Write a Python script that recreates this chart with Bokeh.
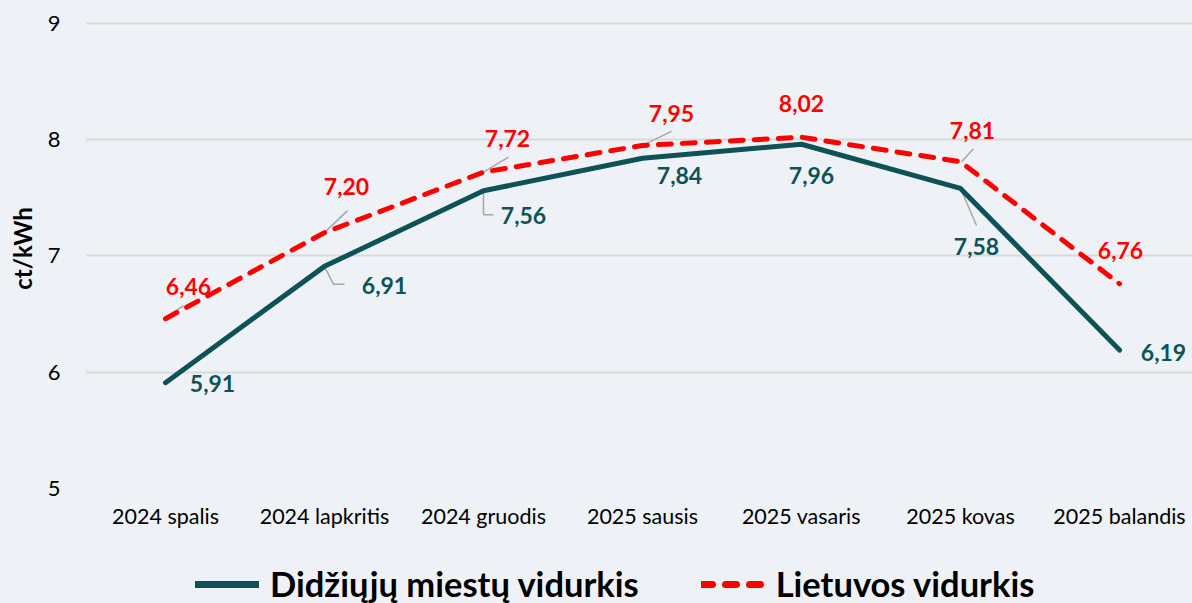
from bokeh.plotting import figure
from bokeh.layouts import column
from bokeh.models import ColumnDataSource, Range1d, FixedTicker, Legend, LegendItem
from bokeh.core.properties import value
from bokeh.embed import file_html
from bokeh.resources import INLINE

# ---- data ----
months = ["2024 spalis", "2024 lapkritis", "2024 gruodis", "2025 sausis",
          "2025 vasaris", "2025 kovas", "2025 balandis"]
cities = [5.91, 6.91, 7.56, 7.84, 7.96, 7.58, 6.19]
lithuania = [6.46, 7.20, 7.72, 7.95, 8.02, 7.81, 6.76]
y_ticks = [5, 6, 7, 8, 9]
series_names = ["Didžiųjų miestų vidurkis", "Lietuvos vidurkis"]

# ---- styles / label placement (screen px, +y = down) ----
TEAL = "#0C5257"
RED = "#FF0000"
BG = "#EEF2F6"
FONT = "Lato"
cities_off = [(47, 1), (60, 19), (40, 25), (37, 17), (10, 31), (16, 58), (44, 2)]
lith_off = [(23, -32), (22, -46), (24, -34), (29, -32), (0, -34), (12, -31), (1, -33)]
# leader lines (screen px, relative to point), keyed by index
cities_lead = {1: [(0, 0), (9, 18), (20, 18)], 2: [(0, 2), (0, 24), (10, 24)], 5: [(1, 2), (16, 37)]}
lith_lead = {0: [(3, -3), (18, -13)], 1: [(1, -1), (23, -22)], 2: [(0, 0), (25, -15)],
             3: [(0, 0), (29, -14)], 5: [(1, 0), (13, -13)]}

W, H_MAIN, H_LEG = 1192, 538, 65
BL, BT, BB, BR = 85, 8, 50, 0
PXX = 159.0
PXY = 116.3
X0 = -80 / PXX
X1 = X0 + (W - BL - BR) / PXX
Y0 = 5
Y1 = Y0 + (H_MAIN - BT - BB) / PXY

xs = list(range(len(months)))

p = figure(width=W, height=H_MAIN, output_backend="svg", toolbar_location=None,
           x_range=Range1d(X0, X1), y_range=Range1d(Y0, Y1),
           min_border_left=BL, min_border_top=BT, min_border_bottom=BB, min_border_right=BR)
p.background_fill_color = BG
p.border_fill_color = BG
p.outline_line_color = None

p.xgrid.grid_line_color = None
p.ygrid.grid_line_color = "#D9D9D9"
p.ygrid.grid_line_width = 2
p.ygrid.ticker = FixedTicker(ticks=y_ticks)

p.yaxis.ticker = FixedTicker(ticks=y_ticks)
p.yaxis.axis_line_color = None
p.yaxis.major_tick_line_color = None
p.yaxis.minor_tick_line_color = None
p.yaxis.major_label_text_font = FONT
p.yaxis.major_label_text_font_size = "22px"
p.yaxis.major_label_text_color = "#000000"
p.yaxis.major_label_standoff = 19
p.yaxis.axis_label = "ct/kWh"
p.yaxis.axis_label_text_font = FONT
p.yaxis.axis_label_text_font_style = "bold"
p.yaxis.axis_label_text_font_size = "24px"
p.yaxis.axis_label_text_color = "#000000"
p.yaxis.axis_label_standoff = 8

p.xaxis.ticker = FixedTicker(ticks=xs)
p.xaxis.major_label_overrides = {i: m for i, m in enumerate(months)}
p.xaxis.axis_line_color = None
p.xaxis.major_tick_line_color = None
p.xaxis.minor_tick_line_color = None
p.xaxis.major_label_text_font = FONT
p.xaxis.major_label_text_font_size = "21.5px"
p.xaxis.major_label_text_color = "#000000"
p.xaxis.major_label_standoff = 8


def leaders(vals, lead):
    lx, ly = [], []
    for i, pts in lead.items():
        lx.append([xs[i] + dx / PXX for dx, dy in pts])
        ly.append([vals[i] - dy / PXY for dx, dy in pts])
    return lx, ly


for vals, lead in ((cities, cities_lead), (lithuania, lith_lead)):
    lx, ly = leaders(vals, lead)
    p.multi_line(lx, ly, line_color="#A6A6A6", line_width=1.5)

src_c = ColumnDataSource(dict(x=xs, y=cities, lab=[f"{v:.2f}".replace(".", ",") for v in cities],
                              dx=[o[0] for o in cities_off], dy=[o[1] for o in cities_off]))
src_l = ColumnDataSource(dict(x=xs, y=lithuania, lab=[f"{v:.2f}".replace(".", ",") for v in lithuania],
                              dx=[o[0] for o in lith_off], dy=[o[1] for o in lith_off]))

p.line("x", "y", source=src_c, line_color=TEAL, line_width=5, line_cap="round", line_join="round")
p.line("x", "y", source=src_l, line_color=RED, line_width=5, line_dash="13 11",
       line_cap="round", line_join="round")

for src, col in ((src_c, TEAL), (src_l, RED)):
    p.text(x="x", y="y", text="lab", x_offset="dx", y_offset="dy", source=src,
           text_align="center", text_baseline="middle", text_font=value(FONT),
           text_font_style="bold", text_font_size="23px", text_color=col)

# ---- legend strip below the chart (series drawn out of view, only legend swatches show) ----
lf = figure(width=W, height=H_LEG, output_backend="svg", toolbar_location=None,
            x_range=Range1d(0, 1), y_range=Range1d(0, 1),
            x_axis_type=None, y_axis_type=None,
            min_border_left=0, min_border_right=0, min_border_top=0, min_border_bottom=0)
lf.background_fill_color = BG
lf.border_fill_color = BG
lf.outline_line_color = None
lf.grid.visible = False
g1 = lf.line("x", "y", source=src_c, line_color=TEAL, line_width=7, line_cap="round")
g2 = lf.line("x", "y", source=src_l, line_color=RED, line_width=7, line_dash="11 13", line_cap="round")

legend = Legend(items=[LegendItem(label=series_names[0], renderers=[g1]),
                       LegendItem(label=series_names[1], renderers=[g2])],
                orientation="horizontal", location=(110, -1),
                glyph_width=64, glyph_height=30, label_standoff=11, spacing=62,
                label_text_font=FONT, label_text_font_style="bold",
                label_text_font_size="34.5px", label_text_color="#000000",
                border_line_alpha=0, background_fill_alpha=0, padding=0, margin=0)
lf.add_layout(legend, "center")

layout = column(p, lf, spacing=0, styles={"background-color": BG})
open("out.html", "w").write(file_html(layout, INLINE))
